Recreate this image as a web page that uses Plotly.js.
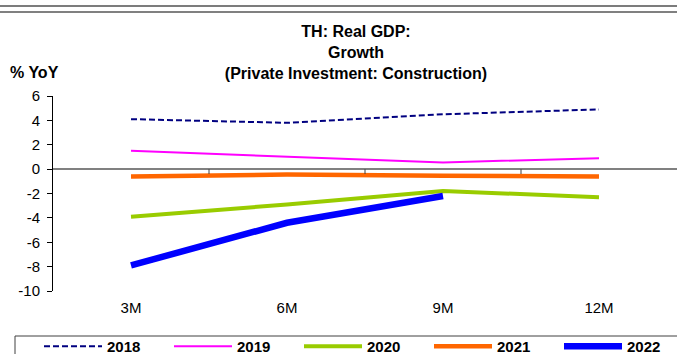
<!DOCTYPE html>
<html>
<head>
<meta charset="utf-8">
<script src="https://cdn.plot.ly/plotly-3.0.1.min.js"></script>
<style>
  html, body { margin: 0; padding: 0; background: #ffffff; }
  #chart { width: 677px; height: 354px; }
</style>
</head>
<body>
<div id="chart"></div>
<script>
// ---- data ----
const categories = ["3M", "6M", "9M", "12M"];
const years = ["2018", "2019", "2020", "2021", "2022"];
const v2018 = [4.1, 3.8, 4.5, 4.9];
const v2019 = [1.5, 1.0, 0.55, 0.9];
const v2020 = [-3.9, -2.9, -1.8, -2.3];
const v2021 = [-0.6, -0.45, -0.55, -0.6];
const v2022 = [-7.9, -4.4, -2.2, null];
const yTicks = [6, 4, 2, 0, -2, -4, -6, -8, -10];

// ---- styling ----
const seriesValues = [v2018, v2019, v2020, v2021, v2022];
const lineStyles = [
  { color: "#000080", width: 2, dash: "6px,3px" },
  { color: "#FF00FF", width: 2, dash: "solid" },
  { color: "#99CC00", width: 4, dash: "solid" },
  { color: "#FF6600", width: 4.5, dash: "solid" },
  { color: "#0000FF", width: 6.5, dash: "solid" }
];

const FONT = "Liberation Sans, Arial, Helvetica, sans-serif";
const xIdx = categories.map((c, i) => i);

const traces = years.map((yr, k) => ({
  type: "scatter",
  mode: "lines",
  name: yr,
  x: xIdx,
  y: seriesValues[k],
  line: lineStyles[k],
  connectgaps: false,
  hoverinfo: "skip"
}));

// plot area geometry (px)
const L = 53, T = 96, B = 63, R = 0, W = 677, H = 354;
const pw = W - L - R, ph = H - T - B;
const px2xp = px => (px - L) / pw;          // container px -> paper x
const py2yp = py => (H - B - py) / ph;      // container px -> paper y

// small tick marks on the zero line at category boundaries
const boundaryTicks = categories.slice(1).map((c, i) => ({
  type: "line", xref: "x", yref: "y",
  x0: i + 0.5, x1: i + 0.5, y0: 0, y1: -0.4,
  line: { color: "#404040", width: 1 }
}));

const layout = {
  width: W, height: H,
  margin: { l: L, r: R, t: T, b: B, autoexpand: false },
  paper_bgcolor: "#ffffff",
  plot_bgcolor: "#ffffff",
  font: { family: FONT, color: "#000000", size: 14 },
  title: {
    text: "TH: Real GDP:<br>Growth<br>(Private Investment: Construction)",
    font: { family: FONT, size: 16, color: "#000000", weight: "bold" },
    xref: "paper", x: px2xp(356), xanchor: "center",
    yref: "container", y: 1 - 37 / H, yanchor: "top"
  },
  xaxis: {
    range: [-0.5, categories.length - 0.5],
    tickvals: xIdx,
    ticktext: categories,
    showline: false,
    showgrid: false,
    zeroline: false,
    ticks: "",
    ticklabelstandoff: 6,
    tickfont: { family: FONT, size: 15, color: "#000000" },
    fixedrange: true
  },
  yaxis: {
    range: [-10, 6],
    tickvals: yTicks,
    ticktext: yTicks.map(String),
    showline: true,
    linecolor: "#000000",
    linewidth: 1,
    ticks: "outside",
    ticklen: 5,
    tickcolor: "#000000",
    tickwidth: 1,
    showgrid: false,
    zeroline: true,
    zerolinecolor: "#808080",
    zerolinewidth: 2,
    ticklabelstandoff: 4,
    tickfont: { family: FONT, size: 15, color: "#000000" },
    fixedrange: true
  },
  showlegend: true,
  legend: {
    orientation: "h",
    x: px2xp(39), xanchor: "left",
    y: py2yp(330), yanchor: "top",
    bgcolor: "rgba(0,0,0,0)",
    borderwidth: 0,
    itemwidth: 58,
    entrywidth: 57,
    font: { family: FONT, size: 15, color: "#000000", weight: "bold" },
    traceorder: "normal"
  },
  annotations: [{
    text: "% YoY",
    xref: "paper", yref: "paper",
    x: px2xp(8), xanchor: "left",
    y: py2yp(72), yanchor: "middle",
    showarrow: false,
    font: { family: FONT, size: 16, color: "#000000", weight: "bold" }
  }],
  shapes: [
    { type: "line", xref: "paper", yref: "paper", x0: px2xp(0), x1: px2xp(W), y0: py2yp(6), y1: py2yp(6),
      line: { color: "#505050", width: 1.5 } },
    { type: "line", xref: "paper", yref: "paper", x0: px2xp(0), x1: px2xp(W), y0: py2yp(12), y1: py2yp(12),
      line: { color: "#808080", width: 2 } },
    // legend frame (extends past the right/bottom edge as in the reference)
    { type: "rect", xref: "paper", yref: "paper", x0: px2xp(15), x1: px2xp(W + 20), y0: py2yp(336), y1: py2yp(H + 20),
      line: { color: "#404040", width: 1 }, fillcolor: "rgba(0,0,0,0)", layer: "below" }
  ].concat(boundaryTicks)
};

Plotly.newPlot("chart", traces, layout, { staticPlot: true, displayModeBar: false });
</script>
</body>
</html>
